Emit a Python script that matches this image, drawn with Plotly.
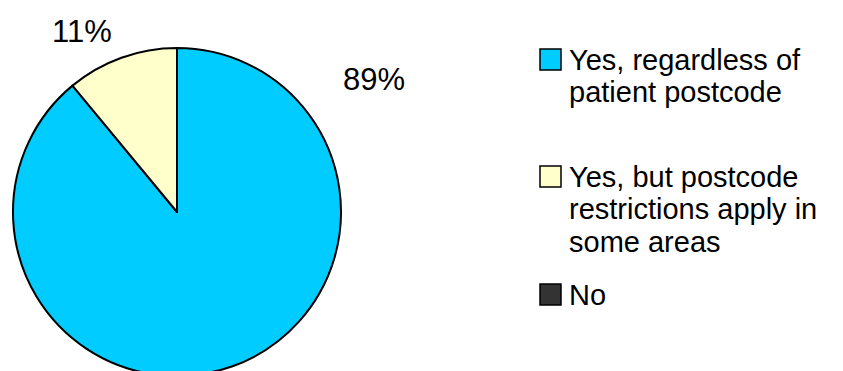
import plotly.graph_objects as go

# Survey answers and their shares (%)
categories = [
    "Yes, regardless of<br>patient postcode",
    "Yes, but postcode<br>restrictions apply in<br>some areas",
    "No",
]
values = [89, 11, 0]
colors = ["#00CCFF", "#FFFFCC", "#333333"]

W, H = 843, 400          # figure is taller than the viewport; bottom of pie is clipped
FONT = "Liberation Sans, Arial, Helvetica, sans-serif"


def px_x(x):
    return x / W


def px_y(y):
    return 1 - y / H


# pie placement in pixels
cx, cy, r = 177, 212, 164

fig = go.Figure(
    go.Pie(
        labels=categories,
        values=values,
        sort=False,
        direction="clockwise",
        rotation=0,
        marker=dict(colors=colors, line=dict(color="#000000", width=2)),
        textinfo="none",
        hoverinfo="label+percent",
        showlegend=False,
        domain=dict(x=[px_x(cx - r), px_x(cx + r)], y=[px_y(cy + r), px_y(cy - r)]),
    )
)

annotations = []
shapes = []

# percentage labels outside the pie
label_pos = [(374, 79), (82, 31)]
for v, (lx, ly) in zip(values, label_pos):
    annotations.append(dict(
        x=px_x(lx), y=px_y(ly), xref="paper", yref="paper",
        text=f"{v}%", showarrow=False, xanchor="center", yanchor="middle",
        font=dict(family=FONT, size=31, color="#000000"),
    ))

# legend: coloured square plus text lines
LEG_SIZE = 29
legend_baselines = [70, 187, 305]
line_gap = 32.5
sq = 21
sq_x = 540
text_x = 568
for name, col, base in zip(categories, colors, legend_baselines):
    shapes.append(dict(
        type="rect", xref="paper", yref="paper",
        x0=px_x(sq_x), x1=px_x(sq_x + sq),
        y0=px_y(base), y1=px_y(base - sq),
        fillcolor=col, line=dict(color="#000000", width=1.5),
    ))
    for i, line in enumerate(name.split("<br>")):
        b = base + i * line_gap
        annotations.append(dict(
            x=px_x(text_x), y=px_y(b - 0.347 * LEG_SIZE), xref="paper", yref="paper",
            text=line, showarrow=False, xanchor="left", yanchor="middle",
            borderpad=0,
            font=dict(family=FONT, size=LEG_SIZE, color="#000000"),
        ))

fig.update_layout(
    width=W, height=H, autosize=False,
    margin=dict(l=0, r=0, t=0, b=0),
    paper_bgcolor="#FFFFFF", plot_bgcolor="#FFFFFF",
    annotations=annotations, shapes=shapes,
)

fig.write_html(
    "out.html",
    post_script="document.documentElement.style.overflow='hidden';document.body.style.overflow='hidden';document.body.style.margin='0';",
)
